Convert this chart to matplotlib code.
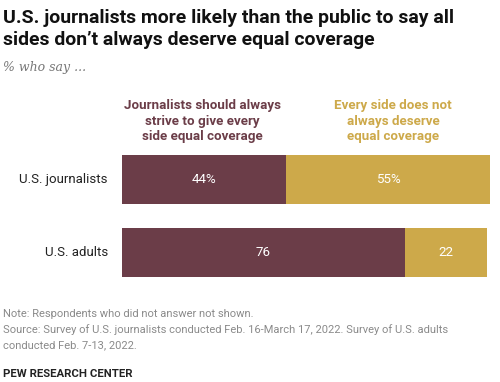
import matplotlib
matplotlib.use('Agg')
import matplotlib.pyplot as plt
import numpy as np

groups = ['U.S. journalists', 'U.S. adults']
always_equal = [44, 76]
not_always = [55, 22]
labels_always = ['44%', '76']
labels_not = ['55%', '22']

maroon = '#6B3D48'
gold = '#CDA94A'

W, H = 500, 382
fig = plt.figure(figsize=(W / 100, H / 100), dpi=100)

def fx(px):
    return px / W

def fy(py):
    return 1 - py / H

# title
fig.text(fx(3), fy(23), "U.S. journalists more likely than the public to say all",
         fontsize=13.95, fontweight='bold', family='Roboto', color='#111111', va='baseline')
fig.text(fx(3), fy(45), "sides don\u2019t always deserve equal coverage",
         fontsize=13.95, fontweight='bold', family='Roboto', color='#111111', va='baseline')
fig.text(fx(3), fy(71), "% who say ...", fontsize=9, style='italic',
         family='DejaVu Serif', color='#777777', va='baseline')

# legend labels
fig.text(fx(202), fy(121), "Journalists should always\nstrive to give every\nside equal coverage",
         fontsize=9.6, fontweight='bold', family='Roboto', color=maroon,
         ha='center', va='center', linespacing=1.25)
fig.text(fx(393), fy(121), "Every side does not\nalways deserve\nequal coverage",
         fontsize=9.6, fontweight='bold', family='Roboto', color=gold,
         ha='center', va='center', linespacing=1.25)

# bars
ax = fig.add_axes([fx(122), fy(282), fx(372), (282 - 150) / H])
y = np.arange(len(groups))
ax.barh(y, always_equal, height=0.667, color=maroon)
ax.barh(y, not_always, left=always_equal, height=0.667, color=gold)
ax.set_xlim(0, 100)
ax.set_ylim(1.401, -0.395)
ax.axis('off')

for i in range(len(groups)):
    ax.text(always_equal[i] / 2, y[i], labels_always[i], ha='center', va='center',
            color='white', fontsize=9.6, family='Roboto')
    ax.text(always_equal[i] + not_always[i] / 2, y[i], labels_not[i], ha='center', va='center',
            color='white', fontsize=9.6, family='Roboto')
    ax.text(-3.8, y[i], groups[i], ha='right', va='center', color='#222222',
            fontsize=9.5, family='Roboto')

# notes
fig.text(fx(3), fy(317), "Note: Respondents who did not answer not shown.",
         fontsize=8.05, family='Roboto', color='#8a8a8a', va='baseline')
fig.text(fx(3), fy(333), "Source: Survey of U.S. journalists conducted Feb. 16-March 17, 2022. Survey of U.S. adults",
         fontsize=8.05, family='Roboto', color='#8a8a8a', va='baseline')
fig.text(fx(3), fy(348), "conducted Feb. 7-13, 2022.",
         fontsize=8.05, family='Roboto', color='#8a8a8a', va='baseline')
fig.text(fx(3), fy(377), "PEW RESEARCH CENTER",
         fontsize=8.2, fontweight='bold', family='Roboto', color='#222222', va='baseline')

fig.savefig('out.png', dpi=100)
